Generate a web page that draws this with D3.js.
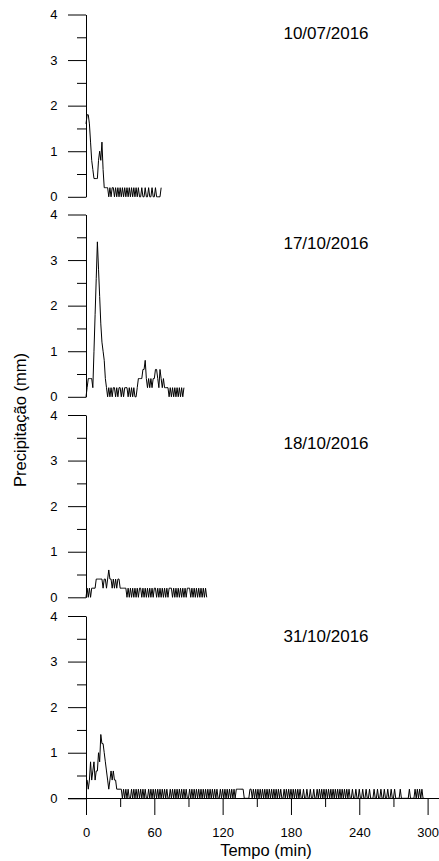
<!DOCTYPE html>
<html>
<head>
<meta charset="utf-8">
<script src="https://cdn.jsdelivr.net/npm/d3@7"></script>
<style>
  body { margin: 0; background: #fff; }
  svg { display: block; }
  text { font-family: "Liberation Sans", Arial, sans-serif; fill: #000; }
</style>
</head>
<body>
<svg id="chart" width="439" height="861"></svg>
<script>
// Rain-gauge records, one value per minute (mm), starting at minute 0.
const eventDates = ["10/07/2016", "17/10/2016", "18/10/2016", "31/10/2016"];

const rain20160710 = [
  1.6,1.8,1.8,1.6,1.2,0.8,0.6,0.4,0.4,0.4,
  0.4,0.8,1.0,0.8,1.2,0.6,0.2,0.2,0.2,0.2,
  0,.2,0,.2,.2,0,.2,0,.2,0,
  .2,0,.2,0,.2,0,.2,0,.2,0,
  .2,0,.2,0,.2,0,.2,0,0,.2,
  0,0,.2,0,0,.2,0,0,.2,0,
  0,.2,0,0,0,0,.2
];

const rain20161017 = [
  0,.2,.4,.4,.4,.4,.2,1.0,1.8,2.6,
  3.4,2.8,2.2,1.6,1.2,1.0,0.8,0.4,0.2,0,
  .2,0,.2,0,.2,.2,0,.2,0,.2,
  .2,0,.2,0,.2,.2,.2,0,.2,0,
  .2,0,.2,0,0,.2,.4,.4,.4,.4,
  .6,.6,.8,.4,.2,.4,.2,.4,.2,.4,
  .4,.6,.6,.4,.2,.6,.4,.2,.4,.2,
  .2,.2,.2,0,.2,0,.2,0,.2,0,
  .2,0,.2,0,.2,0,.2
];

const rain20161018 = [
  0,.2,0,.2,0,.2,.2,.2,.2,.4,
  .4,.4,.4,.4,.4,.2,.4,.4,.2,.4,
  .6,.4,.4,.2,.4,.2,.4,.2,.4,.4,
  .2,.2,.2,.2,.2,.2,0,.2,0,.2,
  0,.2,0,.2,0,.2,0,.2,.2,0,
  .2,0,.2,0,.2,0,.2,0,.2,0,
  .2,.2,0,.2,0,.2,0,.2,0,.2,
  0,.2,0,.2,.2,.2,0,.2,0,.2,
  0,.2,0,.2,0,.2,0,.2,0,.2,
  .2,.2,0,.2,0,.2,0,.2,0,.2,
  0,.2,0,.2,0,.2,0
];

const rain20161031 = [
  .4,.4,.2,.4,.8,.4,.6,.8,.4,.6,
  .6,1.0,.8,1.4,1.2,1.2,1.0,.8,.6,.4,
  .2,.4,.6,.4,.6,.4,.4,.2,.2,.2,
  .2,.2,0,.2,0,.2,0,.2,0,0,
  .2,0,.2,0,.2,0,.2,0,.2,0,
  .2,0,.2,0,0,.2,0,.2,0,.2,
  0,.2,0,.2,0,.2,0,.2,0,.2,
  0,.2,0,0,.2,0,.2,0,.2,0,
  .2,0,.2,0,.2,0,.2,0,.2,0,
  0,.2,0,.2,0,.2,0,.2,0,.2,
  0,.2,0,.2,0,.2,0,.2,0,.2,
  0,.2,0,.2,0,.2,0,0,.2,0,
  .2,0,.2,0,.2,0,.2,0,.2,0,
  .2,0,.2,.2,.2,.2,.2,.2,.2,0,
  0,0,0,0,.2,.2,0,.2,0,.2,
  0,.2,0,.2,0,.2,0,.2,0,.2,
  0,.2,0,.2,0,.2,0,.2,0,.2,
  0,.2,0,0,.2,0,.2,0,.2,0,
  .2,0,.2,0,.2,0,.2,0,.2,0,
  0,.2,0,0,.2,0,0,.2,0,0,
  .2,0,0,.2,0,.2,0,.2,0,.2,
  0,.2,0,.2,0,.2,0,.2,0,.2,
  0,.2,0,.2,0,.2,0,.2,0,.2,
  0,.2,0,0,.2,0,0,.2,0,0,
  .2,0,0,.2,0,0,.2,0,0,.2,
  0,0,0,.2,0,0,.2,0,0,.2,
  0,0,.2,0,0,.2,0,0,.2,0,
  0,.2,0,0,0,0,.2,0,0,0,
  0,0,0,0,.2,0,0,0,0,.2,
  0,.2,0,.2,0,.2,0,0
];

const eventSeries = [rain20160710, rain20161017, rain20161018, rain20161031];

// Axis ticks
const yMajorTicks = [0, 1, 2, 3, 4];
const yMinorTicks = [0.5, 1.5, 2.5, 3.5];
const xMajorTicks = [0, 60, 120, 180, 240, 300];
const xMinorTicks = [30, 90, 150, 210, 270];

// Layout
const FONT = '"Liberation Sans", Arial, sans-serif';
const TICK_FONT = 13;
const TITLE_FONT = 17;
const AXIS_TITLE_FONT = 16.5;
const axisX = 86;
const panelTops = [14.5, 214.5, 415, 616];
const panelH = 182.3;
const dateLabelY = [39, 249, 449, 642];

const svg = d3.select("#chart");
svg.append("rect").attr("width", 439).attr("height", 861).attr("fill", "#fff");

const x = d3.scaleLinear().domain([0, 300]).range([axisX, 427.6]);

const line = d3.line();

// d3 axes set their own font attributes, so restyle them after the call
function styleAxis(a) {
  a.attr("font-family", FONT).attr("font-size", TICK_FONT);
  a.selectAll("line, path").attr("stroke", "#000");
  a.selectAll("text").attr("fill", "#000");
}

eventSeries.forEach((vals, i) => {
  const top = panelTops[i];
  const y = d3.scaleLinear().domain([0, 4]).range([top + panelH, top]);
  const g = svg.append("g");

  // minor y ticks
  g.append("g")
    .attr("transform", `translate(${axisX},0)`)
    .call(d3.axisLeft(y).tickValues(yMinorTicks).tickSize(9).tickFormat(""))
    .call(a => a.select(".domain").remove())
    .call(styleAxis);

  // major y ticks with labels
  g.append("g")
    .attr("transform", `translate(${axisX},0)`)
    .call(d3.axisLeft(y).tickValues(yMajorTicks).tickSize(18).tickSizeOuter(0)
      .tickPadding(10.5).tickFormat(d3.format("d")))
    .call(styleAxis);

  // precipitation trace
  line.x((d, j) => x(j)).y(d => y(d));
  g.append("path")
    .datum(vals)
    .attr("fill", "none")
    .attr("stroke", "#000")
    .attr("stroke-width", 1)
    .attr("stroke-linejoin", "round")
    .attr("d", line);

  g.append("text")
    .attr("x", 326)
    .attr("y", dateLabelY[i])
    .attr("text-anchor", "middle")
    .attr("font-size", TITLE_FONT)
    .text(eventDates[i]);

  if (i === eventSeries.length - 1) {
    const base = Math.round(top + panelH);
    // baseline across the full width
    g.append("line")
      .attr("x1", 68).attr("x2", 439)
      .attr("y1", base + 0.5).attr("y2", base + 0.5)
      .attr("stroke", "#000");
    g.append("g")
      .attr("transform", `translate(0,${base})`)
      .call(d3.axisBottom(x).tickValues(xMinorTicks).tickSize(9).tickFormat(""))
      .call(a => a.select(".domain").remove())
      .call(styleAxis);
    g.append("g")
      .attr("transform", `translate(0,${base})`)
      .call(d3.axisBottom(x).tickValues(xMajorTicks).tickSize(17).tickPadding(13)
        .tickFormat(d3.format("d")))
      .call(a => a.select(".domain").remove())
      .call(styleAxis);
  }
});

// axis titles
svg.append("text")
  .attr("x", 266)
  .attr("y", 856)
  .attr("text-anchor", "middle")
  .attr("font-size", AXIS_TITLE_FONT)
  .text("Tempo (min)");

svg.append("text")
  .attr("transform", "translate(26,420) rotate(-90)")
  .attr("text-anchor", "middle")
  .attr("font-size", AXIS_TITLE_FONT)
  .text("Precipitação (mm)");
</script>
</body>
</html>
